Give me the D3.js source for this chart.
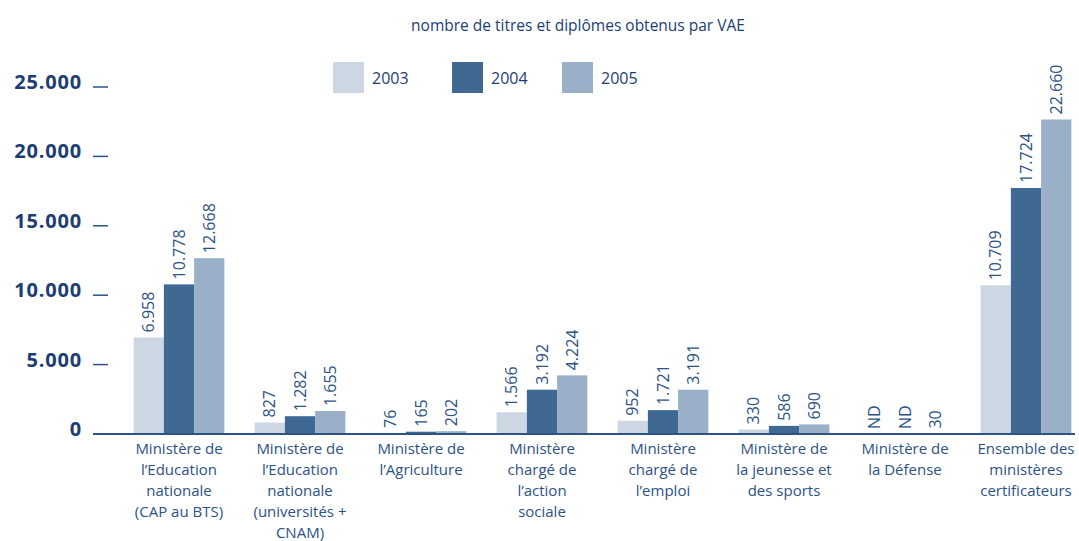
<!DOCTYPE html>
<html>
<head>
<meta charset="utf-8">
<script src="https://cdn.jsdelivr.net/npm/d3@7"></script>
<style>
  body { margin: 0; background: #fff; }
  text { font-family: "Open Sans", sans-serif; }
</style>
</head>
<body>
<svg width="1079" height="541"></svg>
<script>
const categories = [
  ["Ministère de", "l\u2019Education", "nationale", "(CAP au BTS)"],
  ["Ministère de", "l\u2019Education", "nationale", "(universités +", "CNAM)"],
  ["Ministère de", "l\u2019Agriculture"],
  ["Ministère", "chargé de", "l\u2019action", "sociale"],
  ["Ministère", "chargé de", "l\u2019emploi"],
  ["Ministère de", "la jeunesse et", "des sports"],
  ["Ministère de", "la Défense"],
  ["Ensemble des", "ministères", "certificateurs"]
];
const years = ["2003", "2004", "2005"];
const values2003 = [6958, 827, 76, 1566, 952, 330, null, 10709];
const values2004 = [10778, 1282, 165, 3192, 1721, 586, null, 17724];
const values2005 = [12668, 1655, 202, 4224, 3191, 690, 30, 22660];
const yTicks = [0, 5000, 10000, 15000, 20000, 25000];
const colors = ["#cdd7e3", "#3f6892", "#9aafc8"];

const svg = d3.select("svg");
const navy = "#1c3d72";
const labelColor = "#2c5284";

const x = d3.scaleBand()
  .domain(d3.range(categories.length))
  .range([118.5, 1086.5])
  .paddingInner(0.25)
  .paddingOuter(0.125);

const xi = d3.scaleBand().domain(years).range([0, x.bandwidth()]);

const y = d3.scaleLinear().domain([0, 25000]).range([434, 87]);

const fmt = v => d3.format(",")(v).replace(/,/g, ".");

// title
svg.append("text")
  .attr("x", 578).attr("y", 31)
  .attr("text-anchor", "middle")
  .attr("fill", navy)
  .style("font-size", "15.5px")
  .text("nombre de titres et diplômes obtenus par VAE");

// legend
const legX = [333, 452, 562];
years.forEach((yr, i) => {
  svg.append("rect")
    .attr("x", legX[i]).attr("y", 62)
    .attr("width", 31).attr("height", 31)
    .attr("fill", colors[i]);
  svg.append("text")
    .attr("x", legX[i] + 39).attr("y", 84)
    .attr("fill", navy)
    .style("font-size", "16px")
    .text(yr);
});

// y axis: short ticks + labels
const yAxis = svg.append("g");
yAxis.selectAll("line.tick")
  .data(yTicks.filter(d => d > 0))
  .join("line")
  .attr("x1", 93).attr("x2", 108)
  .attr("y1", d => y(d)).attr("y2", d => y(d))
  .attr("stroke", "#2d5386").attr("stroke-width", 1.5);
yAxis.selectAll("text")
  .data(yTicks)
  .join("text")
  .attr("x", 82)
  .attr("y", d => y(d) + 2)
  .attr("text-anchor", "end")
  .attr("fill", navy)
  .style("font-size", "20px")
  .style("letter-spacing", "0.8px")
  .style("font-weight", "bold")
  .text(d => fmt(d));

// bars
const series = [values2003, values2004, values2005];
const barData = [];
categories.forEach((c, ci) => {
  years.forEach((yr, si) => {
    barData.push({ ci, si, yr, v: series[si][ci] });
  });
});

svg.append("g").selectAll("rect")
  .data(barData.filter(d => d.v != null))
  .join("rect")
  .attr("x", d => x(d.ci) + xi(d.yr))
  .attr("y", d => y(d.v))
  .attr("width", xi.bandwidth())
  .attr("height", d => y(0) - y(d.v))
  .attr("fill", d => colors[d.si]);

// value labels (rotated)
svg.append("g").selectAll("text")
  .data(barData)
  .join("text")
  .attr("transform", d => {
    const cx = x(d.ci) + xi(d.yr) + xi.bandwidth() / 2;
    const top = d.v == null ? y(0) : y(d.v);
    return `translate(${cx + 5.5},${top - 5}) rotate(-90)`;
  })
  .attr("text-anchor", "start")
  .attr("fill", labelColor)
  .style("font-size", "16px")
  .text(d => d.v == null ? "ND" : fmt(d.v));

// baseline
svg.append("line")
  .attr("x1", 93).attr("x2", 1075)
  .attr("y1", y(0)).attr("y2", y(0))
  .attr("stroke", "#2d5386").attr("stroke-width", 2);

// category labels
const catG = svg.append("g").selectAll("text")
  .data(categories)
  .join("text")
  .attr("text-anchor", "middle")
  .attr("fill", labelColor)
  .style("font-size", "15px");
catG.selectAll("tspan")
  .data((d, i) => d.map(line => ({ line, i })))
  .join("tspan")
  .attr("x", d => x(d.i) + x.bandwidth() / 2)
  .attr("y", (d, j) => 454 + j * 21)
  .text(d => d.line);
</script>
</body>
</html>
